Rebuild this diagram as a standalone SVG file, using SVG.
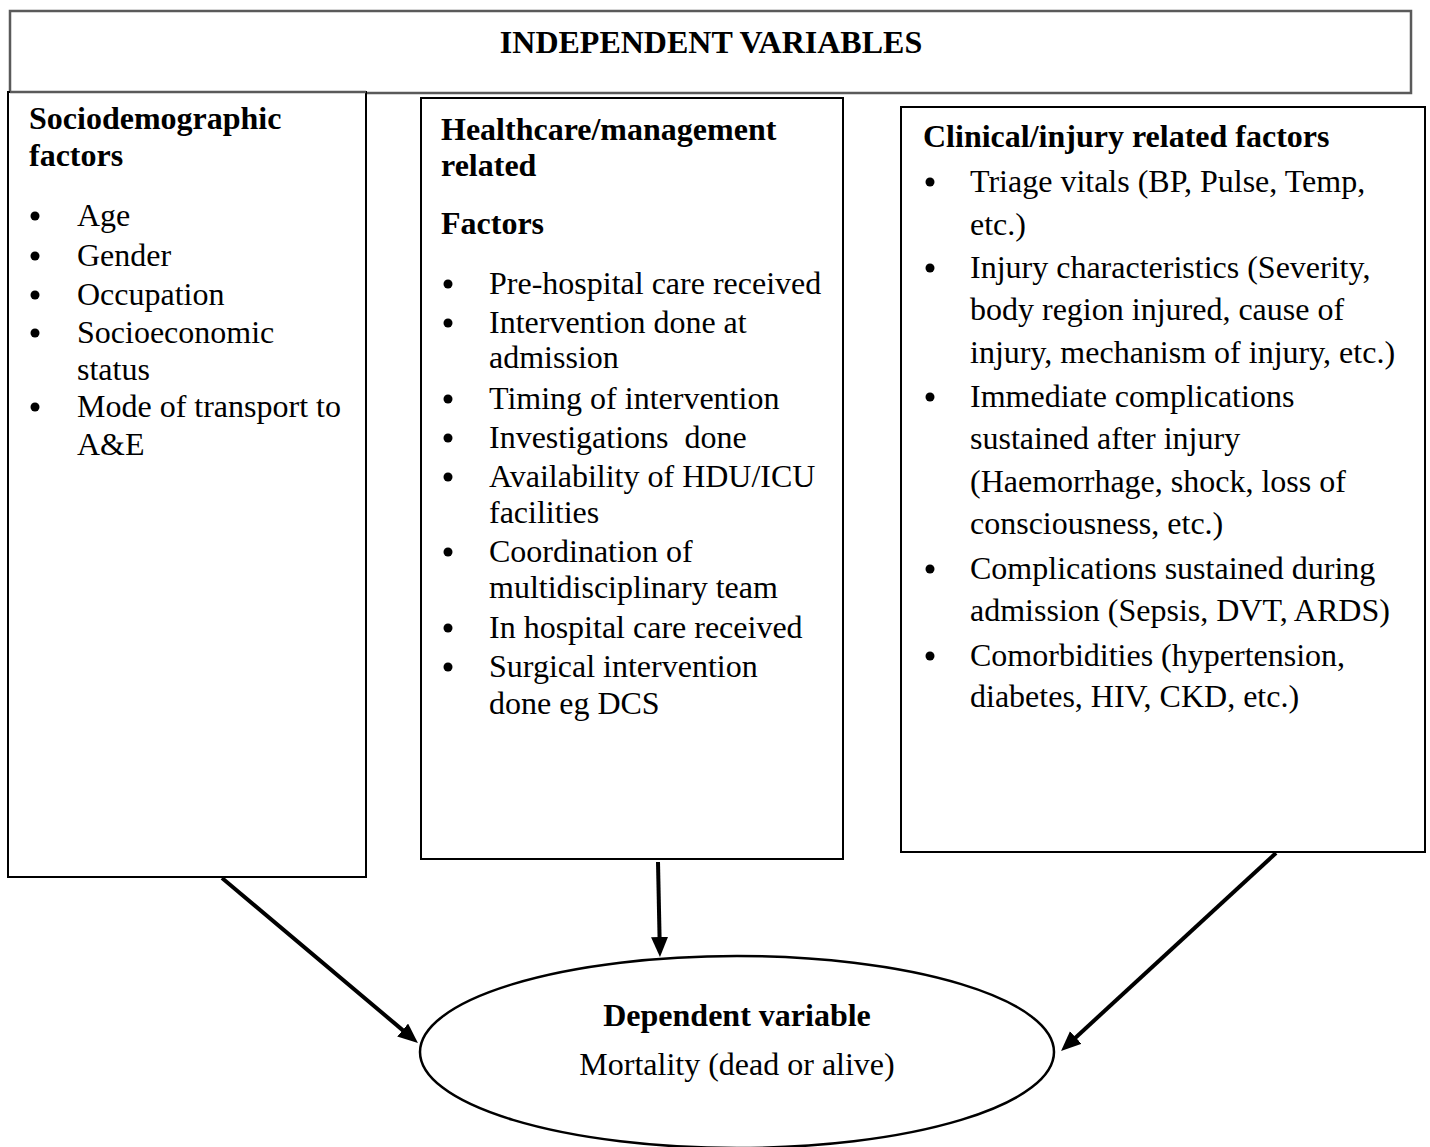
<svg xmlns="http://www.w3.org/2000/svg" width="1430" height="1147" viewBox="0 0 1430 1147">
<style>
.box{fill:#fff;stroke:#000;stroke-width:2}
.top{fill:#fff;stroke:#5a5a5a;stroke-width:2.5}
.t{font-family:"Liberation Serif","Times New Roman",serif;font-size:32px;fill:#000}
.b{font-weight:bold}
.c{text-anchor:middle}
.arr{stroke:#000;stroke-width:4;fill:none;marker-end:url(#ah)}
</style>
<defs>
<marker id="ah" markerUnits="userSpaceOnUse" markerWidth="22" markerHeight="18" refX="7" refY="8.5" orient="auto">
<path d="M0,0 L20,8.5 L0,17 z" fill="#000"/>
</marker>
<circle id="bul" r="4.5" fill="#000"/>
</defs>

<g id="independent">
<rect class="top" x="10" y="11" width="1401" height="82"/>
<text class="t b c" x="711" y="53">INDEPENDENT VARIABLES</text>
</g>

<g id="sociodemographic">
<rect class="box" x="8" y="92" width="358" height="785"/>
<line x1="10" y1="92" x2="366" y2="92" stroke="#5a5a5a" stroke-width="2.5"/>
<text class="t b" x="29" y="129">Sociodemographic</text>
<text class="t b" x="29" y="166">factors</text>
<use href="#bul" x="35" y="216"/><text class="t" x="77" y="226">Age</text>
<use href="#bul" x="35" y="256"/><text class="t" x="77" y="266">Gender</text>
<use href="#bul" x="35" y="295"/><text class="t" x="77" y="305">Occupation</text>
<use href="#bul" x="35" y="333"/><text class="t" x="77" y="343">Socioeconomic</text>
<text class="t" x="77" y="380">status</text>
<use href="#bul" x="35" y="407"/><text class="t" x="77" y="417">Mode of transport to</text>
<text class="t" x="77" y="455">A&amp;E</text>
</g>

<g id="healthcare">
<rect class="box" x="421" y="98" width="422" height="761"/>
<text class="t b" x="441" y="140">Healthcare/management</text>
<text class="t b" x="441" y="176">related</text>
<text class="t b" x="441" y="234">Factors</text>
<use href="#bul" x="448" y="284"/><text class="t" x="489" y="294">Pre-hospital care received</text>
<use href="#bul" x="448" y="323"/><text class="t" x="489" y="333">Intervention done at</text>
<text class="t" x="489" y="368">admission</text>
<use href="#bul" x="448" y="399"/><text class="t" x="489" y="409">Timing of intervention</text>
<use href="#bul" x="448" y="438"/><text class="t" x="489" y="448" xml:space="preserve">Investigations  done</text>
<use href="#bul" x="448" y="477"/><text class="t" x="489" y="487">Availability of HDU/ICU</text>
<text class="t" x="489" y="523">facilities</text>
<use href="#bul" x="448" y="552"/><text class="t" x="489" y="562">Coordination of</text>
<text class="t" x="489" y="598">multidisciplinary team</text>
<use href="#bul" x="448" y="628"/><text class="t" x="489" y="638">In hospital care received</text>
<use href="#bul" x="448" y="667"/><text class="t" x="489" y="677">Surgical intervention</text>
<text class="t" x="489" y="714">done eg DCS</text>
</g>

<g id="clinical">
<rect class="box" x="901" y="107" width="524" height="745"/>
<text class="t b" x="923" y="147">Clinical/injury related factors</text>
<use href="#bul" x="930" y="182"/><text class="t" x="970" y="192">Triage vitals (BP, Pulse, Temp,</text>
<text class="t" x="970" y="235">etc.)</text>
<use href="#bul" x="930" y="268"/><text class="t" x="970" y="278">Injury characteristics (Severity,</text>
<text class="t" x="970" y="320">body region injured, cause of</text>
<text class="t" x="970" y="363">injury, mechanism of injury, etc.)</text>
<use href="#bul" x="930" y="397"/><text class="t" x="970" y="407">Immediate complications</text>
<text class="t" x="970" y="449">sustained after injury</text>
<text class="t" x="970" y="492">(Haemorrhage, shock, loss of</text>
<text class="t" x="970" y="534">consciousness, etc.)</text>
<use href="#bul" x="930" y="569"/><text class="t" x="970" y="579">Complications sustained during</text>
<text class="t" x="970" y="621">admission (Sepsis, DVT, ARDS)</text>
<use href="#bul" x="930" y="656"/><text class="t" x="970" y="666">Comorbidities (hypertension,</text>
<text class="t" x="970" y="707">diabetes, HIV, CKD, etc.)</text>
</g>

<g id="dependent">
<ellipse cx="737" cy="1052" rx="317" ry="96" fill="#fff" stroke="#000" stroke-width="2.5"/>
<text class="t b c" x="737" y="1026">Dependent variable</text>
<text class="t c" x="737" y="1075">Mortality (dead or alive)</text>
</g>

<g id="connectors">
<line class="arr" x1="222" y1="878" x2="408" y2="1034.6"/>
<line class="arr" x1="658" y1="862" x2="659.7" y2="944"/>
<line class="arr" x1="1276" y1="853" x2="1070.6" y2="1042.2"/>
</g>
</svg>
